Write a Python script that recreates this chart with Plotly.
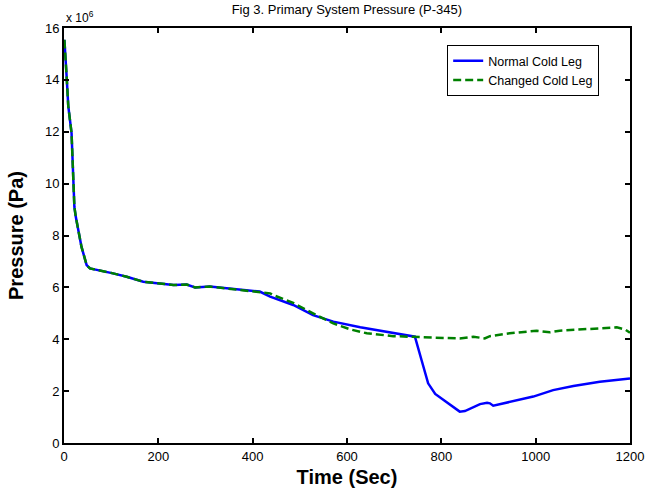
import plotly.graph_objects as go

# Time (s) and pressure (x 10^6 Pa)
normal_t = [0, 1, 6, 9, 16, 20, 22, 25, 37, 48, 55, 104, 133, 168, 203, 232, 260, 278, 309, 359, 415,
            437, 486, 528, 571, 628, 670, 741, 744, 758, 772, 787, 797, 818, 839, 850, 882, 897, 903,
            910, 945, 995, 1037, 1080, 1136, 1200]
normal_p = [15.5, 15.5, 14.0, 13.0, 11.95, 10.4, 9.1, 8.72, 7.57, 6.86, 6.73, 6.54, 6.41, 6.22, 6.16,
            6.09, 6.11, 6.0, 6.03, 5.93, 5.84,
            5.64, 5.32, 4.93, 4.68, 4.46, 4.33, 4.12, 4.10, 3.2, 2.3, 1.89, 1.76, 1.46, 1.21, 1.23,
            1.5, 1.55, 1.53, 1.44, 1.59, 1.79, 2.04, 2.2, 2.36, 2.49]

changed_t = [0, 1, 6, 9, 16, 20, 22, 25, 37, 48, 55, 104, 133, 168, 203, 232, 260, 278, 309, 359, 415,
             437, 444, 486, 528, 571, 607, 642, 698, 741, 797, 839, 868, 892, 903, 945, 1002, 1030,
             1051, 1101, 1136, 1172, 1189, 1200]
changed_p = [15.5, 15.5, 14.0, 13.0, 11.95, 10.4, 9.1, 8.72, 7.57, 6.86, 6.73, 6.54, 6.41, 6.22, 6.16,
             6.09, 6.11, 6.0, 6.03, 5.93, 5.84,
             5.77, 5.7, 5.4, 5.0, 4.61, 4.38, 4.23, 4.12, 4.10, 4.07, 4.03, 4.10, 4.03, 4.12, 4.23,
             4.33, 4.27, 4.33, 4.38, 4.44, 4.46, 4.38, 4.25]

x_ticks = [0, 200, 400, 600, 800, 1000, 1200]
y_ticks = [0, 2, 4, 6, 8, 10, 12, 14, 16]

FONT = "Arial, Liberation Sans, sans-serif"

fig = go.Figure()
fig.add_trace(go.Scatter(x=normal_t, y=normal_p, mode="lines", name="Normal Cold Leg",
                         line=dict(color="#0000FF", width=2.5)))
fig.add_trace(go.Scatter(x=changed_t, y=changed_p, mode="lines", name="Changed Cold Leg",
                         line=dict(color="#008000", width=2.5, dash="8px,4px")))

axis_common = dict(showgrid=False, zeroline=False, showline=True, linecolor="black", linewidth=2,
                   mirror="allticks", ticks="inside", ticklen=5, tickwidth=2, tickcolor="black",
                   automargin=False,
                   tickfont=dict(family=FONT, size=13, color="black"))

fig.update_xaxes(range=[0, 1200], tickvals=x_ticks, ticktext=[str(v) for v in x_ticks],
                 title=dict(text="<b>Time (Sec)</b>", font=dict(family=FONT, size=20, color="black"),
                            standoff=7),
                 **axis_common)
fig.update_yaxes(range=[0, 16], tickvals=y_ticks, ticktext=[str(v) for v in y_ticks],
                 title=dict(text="<b>Pressure (Pa)</b>", font=dict(family=FONT, size=20, color="black"),
                            standoff=16),
                 **axis_common)

fig.update_layout(
    width=646, height=494,
    margin=dict(l=64, r=16, t=28, b=51, autoexpand=False),
    paper_bgcolor="white", plot_bgcolor="white",
    title=dict(text="Fig 3. Primary System Pressure (P-345)", x=0.537, xanchor="center",
               y=0.99, yanchor="top", font=dict(family=FONT, size=13, color="black")),
    legend=dict(x=0.677, y=0.959, xanchor="left", yanchor="top", bgcolor="white",
                bordercolor="black", borderwidth=1, font=dict(family=FONT, size=12.5, color="black"),
                tracegroupgap=0, itemwidth=30),
    showlegend=True,
    annotations=[dict(text="x 10<sup>6</sup>", xref="paper", yref="paper", x=0, y=1,
                      xanchor="left", yanchor="bottom", showarrow=False, yshift=1,
                      font=dict(family=FONT, size=12, color="black"))],
)

fig.write_html("out.html")
